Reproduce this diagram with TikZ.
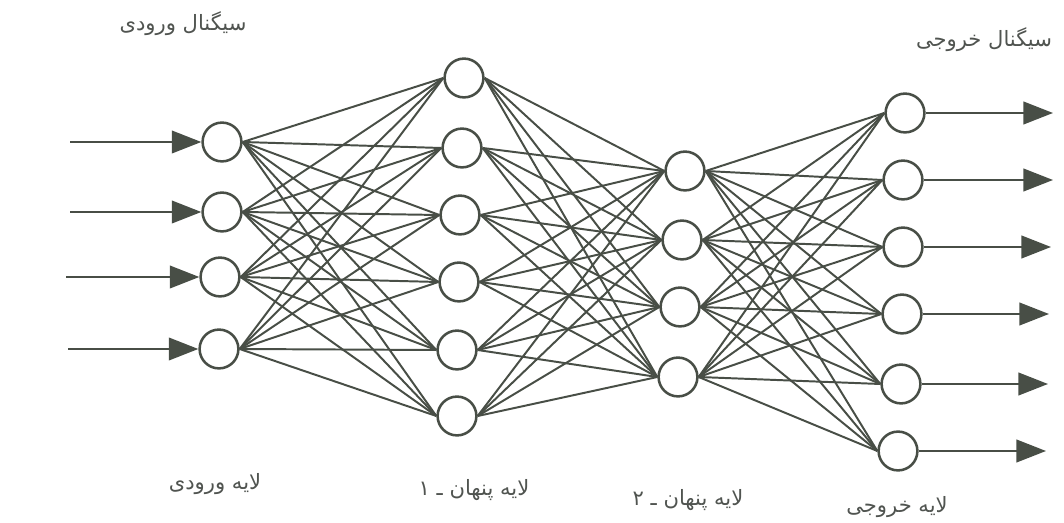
\documentclass[tikz,border=0pt]{standalone}
\usepackage{fontspec}
\newfontfamily\arabicfont[Script=Arabic]{DejaVu Sans}
\TeXXeTstate=1
\usetikzlibrary{arrows.meta}
\definecolor{ink}{RGB}{72,78,70}
\definecolor{txt}{RGB}{80,84,80}
\tikzset{
  neuron/.style={circle,draw=ink,line width=1.8pt,minimum size=0.97cm,inner sep=0pt,fill=white},
  link/.style={draw=ink,line width=1.4pt},
  sigarrow/.style={draw=ink,line width=1.7pt,-{Triangle[length=21pt,width=16pt]}},
  lbl/.style={text=txt,font=\arabicfont\fontsize{15}{17}\selectfont,inner sep=0pt}
}
\begin{document}
\begin{tikzpicture}[x=0.025cm,y=-0.025cm]
\useasboundingbox (0,0) rectangle (1064,523);
% connections first, nodes drawn on top
\path
 (222,142) coordinate (ci1) (222,212) coordinate (ci2) (220,277) coordinate (ci3) (219,349) coordinate (ci4)
 (464,78) coordinate (ch1) (462,148) coordinate (ch2) (460,215) coordinate (ch3) (459,282) coordinate (ch4) (457,350) coordinate (ch5) (457,416) coordinate (ch6)
 (685,171) coordinate (cg1) (682,240) coordinate (cg2) (680,307) coordinate (cg3) (678,377) coordinate (cg4)
 (905,113) coordinate (co1) (903,180) coordinate (co2) (903,247) coordinate (co3) (902,314) coordinate (co4) (901,384) coordinate (co5) (898,451) coordinate (co6);
\foreach \n in {i1,i2,i3,i4,h1,h2,h3,h4,h5,h6,g1,g2,g3,g4,o1,o2,o3,o4,o5,o6}{\node[neuron] (\n) at (c\n) {};}
\foreach \a in {i1,i2,i3,i4}{\foreach \b in {h1,h2,h3,h4,h5,h6}{\draw[link] (\a.east) -- (\b.west);}}
\foreach \a in {h1,h2,h3,h4,h5,h6}{\foreach \b in {g1,g2,g3,g4}{\draw[link] (\a.east) -- (\b.west);}}
\foreach \a in {g1,g2,g3,g4}{\foreach \b in {o1,o2,o3,o4,o5,o6}{\draw[link] (\a.east) -- (\b.west);}}
% input arrows
\coordinate (s1) at (70,142);
\coordinate (s2) at (70,212);
\coordinate (s3) at (66,277);
\coordinate (s4) at (68,349);
\draw[sigarrow] (s1) -- (i1.west);
\draw[sigarrow] (s2) -- (i2.west);
\draw[sigarrow] (s3) -- (i3.west);
\draw[sigarrow] (s4) -- (i4.west);
% output arrows
\coordinate (t1) at (1053,113);
\coordinate (t2) at (1053,180);
\coordinate (t3) at (1051,247);
\coordinate (t4) at (1049,314);
\coordinate (t5) at (1048,384);
\coordinate (t6) at (1046,451);
\draw[sigarrow] (o1.east) -- (t1);
\draw[sigarrow] (o2.east) -- (t2);
\draw[sigarrow] (o3.east) -- (t3);
\draw[sigarrow] (o4.east) -- (t4);
\draw[sigarrow] (o5.east) -- (t5);
\draw[sigarrow] (o6.east) -- (t6);
% labels
\node[lbl] (insig) at (183,24) {\beginR سیگنال ورودی\endR};
\node[lbl] (outsig) at (984,40) {\beginR سیگنال خروجی\endR};
\node[lbl] (inl) at (215,484) {\beginR لایه ورودی\endR};
\node[lbl] (h1l) at (474,490) {\beginR لایه پنهان ـ ۱\endR};
\node[lbl] (h2l) at (688,500) {\beginR لایه پنهان ـ ۲\endR};
\node[lbl] (outl) at (897,507) {\beginR لایه خروجی\endR};
\end{tikzpicture}
\end{document}
